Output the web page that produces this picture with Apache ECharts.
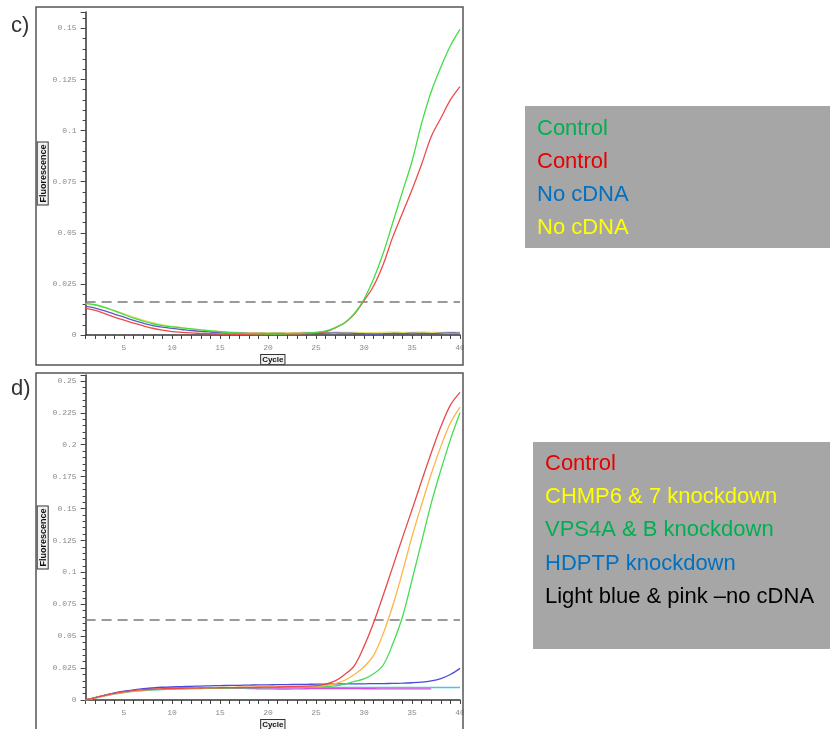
<!DOCTYPE html>
<html>
<head>
<meta charset="utf-8">
<script src="https://cdn.jsdelivr.net/npm/echarts@6/dist/echarts.min.js"></script>
<style>
  html, body { margin: 0; padding: 0; background: #ffffff; }
  #chart { width: 830px; height: 729px; }
</style>
</head>
<body>
<div id="chart"></div>
<script>
// PCR amplification cycles
const cycles = [1,2,3,4,5,6,7,8,9,10,11,12,13,14,15,16,17,18,19,20,
                21,22,23,24,25,26,27,28,29,30,31,32,33,34,35,36,37,38,39,40];
const xLabelCycles = [5,10,15,20,25,30,35,40];

// Panel c: fluorescence per cycle
const cControlGreen = [0.0155,0.0148,0.0135,0.0118,0.0100,0.0083,0.0068,0.0055,0.0046,0.0040,
                       0.0035,0.0030,0.0025,0.0020,0.0016,0.0012,0.0009,0.0007,0.0006,0.0005,
                       0.0005,0.0006,0.0007,0.0009,0.0013,0.0020,0.0036,0.0060,0.0105,0.0175,
                       0.0275,0.0400,0.0550,0.0700,0.0850,0.1035,0.1190,0.1310,0.1415,0.1495];
const cControlRed = [0.0130,0.0120,0.0105,0.0088,0.0073,0.0058,0.0045,0.0033,0.0024,0.0017,
                     0.0013,0.0010,0.0008,0.0006,0.0005,0.0004,0.0003,0.0003,0.0003,0.0003,
                     0.0004,0.0004,0.0005,0.0007,0.0010,0.0016,0.0035,0.0060,0.0102,0.0168,
                     0.0240,0.0345,0.0480,0.0595,0.0710,0.0835,0.0970,0.1060,0.1150,0.1215];
const cNoCdnaBlue = [0.0140,0.0132,0.0118,0.0102,0.0087,0.0071,0.0058,0.0046,0.0038,0.0032,
                     0.0027,0.0022,0.0018,0.0015,0.0012,0.0010,0.0009,0.0008,0.0008,0.0007,
                     0.0008,0.0007,0.0008,0.0009,0.0008,0.0009,0.0010,0.0009,0.0008,0.0006,
                     0.0005,0.0006,0.0008,0.0007,0.0009,0.0008,0.0007,0.0009,0.0010,0.0009];
const cNoCdnaYellow = [0.0152,0.0146,0.0134,0.0120,0.0104,0.0088,0.0073,0.0060,0.0050,0.0042,
                       0.0036,0.0030,0.0025,0.0021,0.0018,0.0015,0.0013,0.0012,0.0012,0.0011,
                       0.0011,0.0012,0.0012,0.0013,0.0013,0.0014,0.0014,0.0013,0.0013,0.0012,
                       0.0012,0.0013,0.0014,0.0013,0.0013,0.0014,0.0013,0.0013,0.0014,0.0014];
const cThreshold = 0.0161;
const cBaseline = 0.0011;
const cBaselineStart = 14;

// Panel d: fluorescence per cycle
const dControl = [0,0.0018,0.0036,0.0052,0.0064,0.0074,0.0080,0.0085,0.0088,0.0090,
                  0.0092,0.0093,0.0094,0.0095,0.0096,0.0097,0.0098,0.0099,0.0100,0.0101,
                  0.0102,0.0104,0.0106,0.0108,0.0112,0.0125,0.0150,0.0200,0.0270,0.0420,
                  0.0605,0.0820,0.1045,0.1270,0.1490,0.1715,0.1935,0.2140,0.2310,0.2410];
const dChmp = [0,0.0016,0.0033,0.0048,0.0060,0.0070,0.0077,0.0082,0.0086,0.0089,
               0.0091,0.0093,0.0095,0.0097,0.0098,0.0099,0.0100,0.0101,0.0102,0.0103,
               0.0104,0.0105,0.0106,0.0107,0.0109,0.0113,0.0128,0.0155,0.0200,0.0260,
               0.0350,0.0520,0.0740,0.1000,0.1280,0.1530,0.1770,0.1985,0.2170,0.2295];
const dVps4 = [0,0.0017,0.0034,0.0050,0.0062,0.0072,0.0078,0.0083,0.0086,0.0088,
               0.0089,0.0090,0.0091,0.0092,0.0093,0.0094,0.0095,0.0096,0.0097,0.0098,
               0.0099,0.0100,0.0101,0.0102,0.0103,0.0105,0.0110,0.0125,0.0145,0.0165,
               0.0205,0.0274,0.0440,0.0650,0.0940,0.1240,0.1540,0.1800,0.2040,0.2250];
const dHdptp = [0,0.0019,0.0038,0.0055,0.0069,0.0080,0.0088,0.0095,0.0100,0.0103,
                0.0105,0.0107,0.0109,0.0111,0.0113,0.0114,0.0115,0.0117,0.0118,0.0119,
                0.0120,0.0121,0.0122,0.0123,0.0124,0.0125,0.0126,0.0126,0.0127,0.0127,
                0.0128,0.0129,0.0130,0.0132,0.0135,0.0140,0.0150,0.0168,0.0200,0.0248];
const dNoCdnaCyan = [0,0.0016,0.0032,0.0046,0.0058,0.0067,0.0073,0.0078,0.0082,0.0085,
                     0.0087,0.0089,0.0090,0.0091,0.0092,0.0093,0.0094,0.0095,0.0096,0.0096,
                     0.0097,0.0097,0.0097,0.0098,0.0098,0.0098,0.0098,0.0098,0.0098,0.0098,
                     0.0098,0.0098,0.0098,0.0098,0.0098,0.0098,0.0098,0.0098,0.0098,0.0098];
const dNoCdnaPink = [0,0.0018,0.0036,0.0052,0.0065,0.0076,0.0084,0.0090,0.0093,0.0095,
                     0.0096,0.0096,0.0096,0.0095,0.0094,0.0093,0.0092,0.0090,0.0088,0.0087,
                     0.0086,0.0086,0.0087,0.0088,0.0089,0.0090,0.0090,0.0090,0.0089,0.0088,
                     0.0088,0.0087,0.0087,0.0087,0.0087,0.0087,0.0087,null,null,null];
const dThreshold = 0.0627;

// Legend texts
const cLegendLabels = ['Control', 'Control', 'No cDNA', 'No cDNA'];
const cLegendColors = ['#00b050', '#e60000', '#0070c0', '#ffff00'];
const dLegendLabels = ['Control', 'CHMP6 & 7 knockdown', 'VPS4A & B knockdown', 'HDPTP knockdown', 'Light blue & pink \u2013no cDNA'];
const dLegendColors = ['#e60000', '#ffff00', '#00b050', '#0070c0', '#000000'];

const chart = echarts.init(document.getElementById('chart'), null, { renderer: 'canvas' });

const pairs = (vals) => cycles.map((c, i) => [c, vals[i]]);

function curve(name, vals, color, gridIdx) {
  return {
    name: name, type: 'line', xAxisIndex: gridIdx, yAxisIndex: gridIdx,
    data: pairs(vals), smooth: 0.35, showSymbol: false, connectNulls: false,
    lineStyle: { color: color, width: 1.3 }, silent: true, z: 3
  };
}
function hline(value, fromCycle, color, dash, width, gridIdx) {
  return {
    type: 'line', xAxisIndex: gridIdx, yAxisIndex: gridIdx,
    data: [[fromCycle, value], [cycles[cycles.length - 1], value]],
    showSymbol: false, silent: true, z: 2,
    lineStyle: { color: color, width: width, type: dash }
  };
}

const tickFont = { fontFamily: 'Liberation Mono', fontSize: 8, color: '#8a8a8a' };
const nameBox = {
  fontFamily: 'Liberation Sans', fontWeight: 'bold', color: '#111',
  borderColor: '#333', borderWidth: 1, backgroundColor: '#f2f2f2'
};

function xAxisFor(gridIdx) {
  return {
    type: 'value', gridIndex: gridIdx, min: 1, max: 40,
    name: 'Cycle', nameLocation: 'middle', nameGap: 20,
    nameTextStyle: Object.assign({ fontSize: 8, padding: [1, 1, 0, 1] }, nameBox),
    axisLine: { show: true, lineStyle: { color: '#333', width: 1.5 } },
    axisTick: { show: true, customValues: cycles, length: 4, lineStyle: { color: '#444' } },
    axisLabel: Object.assign({ customValues: xLabelCycles, margin: 9 }, tickFont),
    splitLine: { show: false }
  };
}
function yAxisFor(gridIdx, max) {
  return {
    type: 'value', gridIndex: gridIdx, min: 0, max: max, interval: 0.025,
    name: 'Fluorescence', nameLocation: 'middle', nameGap: 35, nameRotate: 90,
    nameTextStyle: Object.assign({ fontSize: 9, padding: [1, 2, 0, 2] }, nameBox),
    axisLine: { show: true, onZero: false, lineStyle: { color: '#333', width: 1.5 } },
    axisTick: { show: true, length: 5, lineStyle: { color: '#444' } },
    minorTick: { show: true, splitNumber: 5, length: 3, lineStyle: { color: '#444' } },
    axisLabel: Object.assign({ margin: 9, showMaxLabel: false }, tickFont),
    splitLine: { show: false }, minorSplitLine: { show: false }
  };
}

const graphics = [
  // panel frames
  { type: 'rect', shape: { x: 36, y: 7, width: 427, height: 358 }, style: { fill: 'none', stroke: '#555', lineWidth: 1.5 }, z: 10 },
  { type: 'rect', shape: { x: 36, y: 373, width: 427, height: 370 }, style: { fill: 'none', stroke: '#555', lineWidth: 1.5 }, z: 10 },
  // clip beyond the frames on the right
  { type: 'rect', shape: { x: 464, y: 330, width: 40, height: 30 }, style: { fill: '#fff' }, z: 9 },
  { type: 'rect', shape: { x: 464, y: 695, width: 40, height: 30 }, style: { fill: '#fff' }, z: 9 },
  // panel letters
  { type: 'text', x: 11, y: 26, style: { text: 'c)', font: '22px "Liberation Sans"', fill: '#333', textVerticalAlign: 'middle' }, z: 10 },
  { type: 'text', x: 11, y: 389, style: { text: 'd)', font: '22px "Liberation Sans"', fill: '#333', textVerticalAlign: 'middle' }, z: 10 },
  // legend boxes
  { type: 'rect', shape: { x: 525, y: 106, width: 310, height: 142 }, style: { fill: '#a6a6a6' }, z: 10 },
  { type: 'rect', shape: { x: 533, y: 442, width: 302, height: 207 }, style: { fill: '#a6a6a6' }, z: 10 }
];
cLegendLabels.forEach((t, i) => graphics.push({
  type: 'text', x: 537, y: 129 + i * 33,
  style: { text: t, font: '22px "Liberation Sans"', fill: cLegendColors[i], textVerticalAlign: 'middle' }, z: 11
}));
dLegendLabels.forEach((t, i) => graphics.push({
  type: 'text', x: 545, y: 464 + i * 33.2,
  style: { text: t, font: '22px "Liberation Sans"', fill: dLegendColors[i], textVerticalAlign: 'middle' }, z: 11
}));

chart.setOption({
  backgroundColor: '#ffffff',
  animation: false,
  grid: [
    { left: 85.6, right: 370, top: 12, bottom: 394, outerBoundsMode: 'none' },
    { left: 85.6, right: 370, top: 375, bottom: 29, outerBoundsMode: 'none' }
  ],
  xAxis: [xAxisFor(0), xAxisFor(1)],
  yAxis: [yAxisFor(0, 0.158), yAxisFor(1, 0.2546)],
  series: [
    hline(cThreshold, cycles[0], '#7a7a7a', [10, 6], 1.5, 0),
    hline(cBaseline, cBaselineStart, '#666666', [8, 6], 1.2, 0),
    curve('No cDNA', cNoCdnaYellow, '#e8dc6a', 0),
    curve('No cDNA', cNoCdnaBlue, '#5a5ac8', 0),
    curve('Control', cControlRed, '#ee4b4b', 0),
    curve('Control', cControlGreen, '#44dd44', 0),

    hline(dThreshold, cycles[0], '#7a7a7a', [10, 6], 1.5, 1),
    curve('Light blue no cDNA', dNoCdnaCyan, '#44cccc', 1),
    curve('Pink no cDNA', dNoCdnaPink, '#d050e0', 1),
    curve('HDPTP knockdown', dHdptp, '#4a4ae0', 1),
    curve('VPS4A & B knockdown', dVps4, '#44dd55', 1),
    curve('CHMP6 & 7 knockdown', dChmp, '#ffb347', 1),
    curve('Control', dControl, '#e84a4a', 1)
  ],
  graphic: graphics
});
</script>
</body>
</html>
